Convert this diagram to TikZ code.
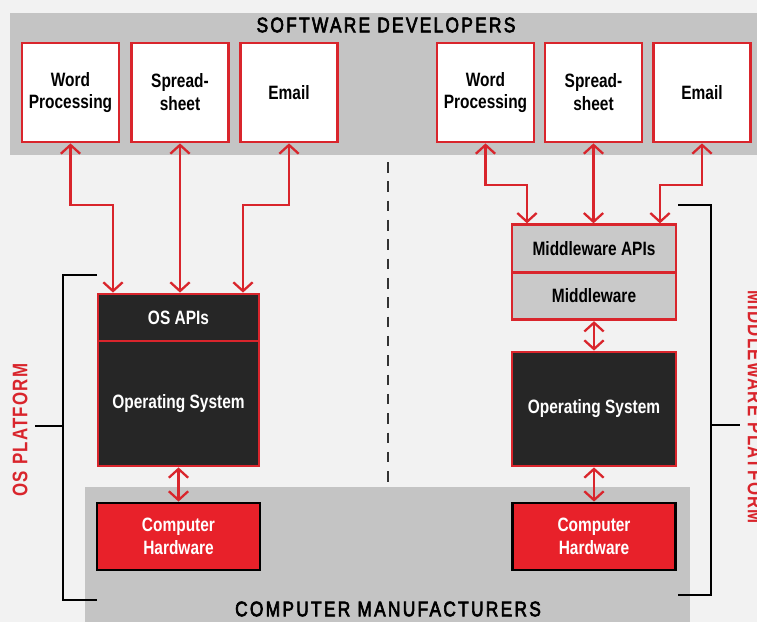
\documentclass[tikz,border=0pt]{standalone}
\usepackage{fontspec}
\setmainfont{Liberation Sans}[FakeStretch=0.8]
\newfontfamily\bandfont{Liberation Sans}[FakeStretch=0.82,LetterSpace=11,FakeBold=3]
\newfontfamily\sidefont{Liberation Sans Bold}[FakeStretch=0.8,LetterSpace=6]
\usetikzlibrary{arrows.meta}
\definecolor{pred}{HTML}{D9252C}
\definecolor{hwred}{HTML}{E8212A}
\definecolor{osdark}{HTML}{262626}
\definecolor{bandgray}{HTML}{C4C4C4}
\definecolor{mwgray}{HTML}{C9C9C9}
\definecolor{paper}{HTML}{F2F2F2}

\begin{document}
\begin{tikzpicture}[x=0.02cm,y=-0.02cm,
  >={Straight Barb[length=5pt,width=11pt]},
  lab/.style={font=\bfseries\fontsize{11}{13}\selectfont,align=center,inner sep=0pt},
  app/.style={lab,draw=pred,line width=1.6pt,fill=white,minimum width=1.94cm,minimum height=1.98cm},
  osbox/.style={lab,draw=pred,line width=1.6pt,fill=osdark,text=white,minimum width=3.22cm},
  mwbox/.style={lab,draw=pred,line width=1.6pt,fill=mwgray,minimum width=3.28cm,minimum height=0.95cm},
  hwbox/.style={lab,draw=black,line width=1.6pt,fill=hwred,text=white,minimum width=3.26cm,minimum height=1.34cm},
  link/.style={<->,draw=pred,line width=1.3pt},
  bracket/.style={draw=black,line width=1.2pt}]
  \useasboundingbox (0,0) rectangle (757,622);
  \fill[paper] (0,0) rectangle (757,622);
  % bands
  \fill[bandgray] (10,13) rectangle (757,155);
  \fill[bandgray] (85,487) rectangle (690,622);
  \node[font=\bandfont\fontsize{12}{14}\selectfont] (dev) at (386,25) {SOFTWARE DEVELOPERS};
  \node[font=\bandfont\fontsize{12}{14}\selectfont] (maker) at (388,609) {COMPUTER MANUFACTURERS};
  \draw[black!80,line width=1pt,dash pattern=on 6pt off 5pt] (388,162) -- (388,488);

  % applications
  \node[app] (wpL) at (70.5,92.5) {Word\\Processing};
  \node[app] (ssL) at (180,92.5) {Spread-\\sheet};
  \node[app] (emL) at (289,92.5) {Email};
  \node[app] (wpR) at (485.5,92.5) {Word\\Processing};
  \node[app] (ssR) at (593.5,92.5) {Spread-\\sheet};
  \node[app] (emR) at (702,92.5) {Email};

  % OS platform
  \node[osbox,minimum height=0.94cm] (apiL) at (178.5,317.5) {OS APIs};
  \node[osbox,minimum height=2.5cm] (osL) at (178.5,403.5) {Operating System};
  \node[hwbox] (hwL) at (178.5,536.5) {Computer\\Hardware};

  % middleware platform
  \node[mwbox] (apiR) at (594,248.5) {Middleware APIs};
  \node[mwbox] (mw) at (594,296) {Middleware};
  \node[osbox,minimum width=3.28cm,minimum height=2.28cm] (osR) at (594,409) {Operating System};
  \node[hwbox] (hwR) at (594,536.5) {Computer\\Hardware};

  % arrows
  \coordinate (kL1) at (113,205);
  \coordinate (kL3) at (243,205);
  \coordinate (kR1) at (527,185);
  \coordinate (kR3) at (660,185);
  \draw[link] (wpL.south) |- (kL1) -- (kL1 |- apiL.north);
  \draw[link] (ssL.south) -- (ssL.south |- apiL.north);
  \draw[link] (emL.south) |- (kL3) -- (kL3 |- apiL.north);
  \draw[link] (wpR.south) |- (kR1) -- (kR1 |- apiR.north);
  \draw[link] (ssR.south) -- (ssR.south |- apiR.north);
  \draw[link] (emR.south) |- (kR3) -- (kR3 |- apiR.north);
  \draw[link] (osL.south) -- (hwL.north);
  \draw[link] (mw.south) -- (osR.north);
  \draw[link] (osR.south) -- (hwR.north);

  % platform brackets
  \draw[bracket] (97,275) -- (63,275) -- (63,600) -- (97,600);
  \draw[bracket] (63,426) -- (35,426);
  \draw[bracket] (678,205) -- (711,205) -- (711,595) -- (678,595);
  \draw[bracket] (711,425) -- (740,425);
  \node[font=\sidefont\fontsize{12}{14}\selectfont,text=pred,rotate=90] (osplat) at (20,430) {OS PLATFORM};
  \node[font=\sidefont\fontsize{12}{14}\selectfont,text=pred,rotate=-90] (mwplat) at (755,407) {MIDDLEWARE PLATFORM};
\end{tikzpicture}
\end{document}
